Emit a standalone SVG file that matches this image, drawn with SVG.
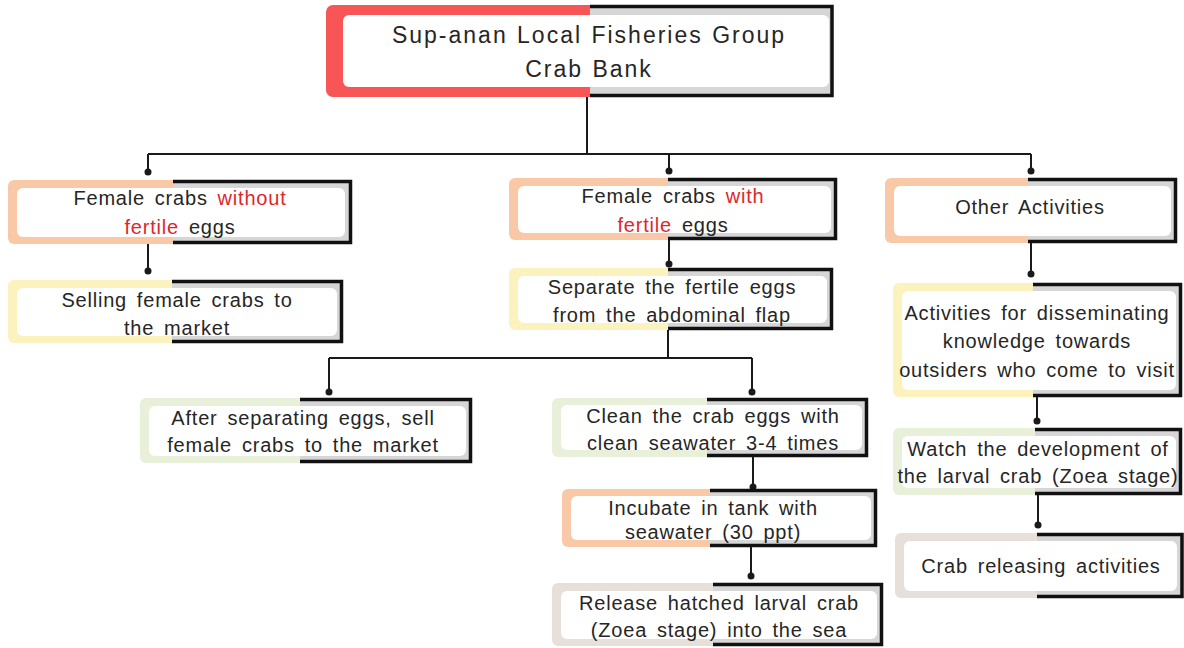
<svg xmlns="http://www.w3.org/2000/svg" width="1184" height="648" viewBox="0 0 1184 648">
<defs>
<style>
.bg{fill:#ffffff}
.gray{fill:#d6d6d6}
.blk{fill:none;stroke:#111;stroke-width:3.5;stroke-linejoin:miter}
.inner{fill:#ffffff}
.red{fill:#f75556}
.peach{fill:#f9c9a7}
.yellow{fill:#fcf2bd}
.green{fill:#e8f0d9}
.taupe{fill:#e7e0da}
.t{font-family:"Liberation Sans",Arial,sans-serif;font-size:20px;fill:#262626;text-anchor:middle;letter-spacing:0.8px;word-spacing:3.5px}
.title{font-size:23px;letter-spacing:2px;word-spacing:1px}
.hl{fill:#e0262c}
.ln{stroke:#1a1a1a;stroke-width:2;fill:none}
.dot{fill:#1a1a1a}
</style>
</defs>
<rect class="bg" x="0" y="0" width="1184" height="648"/>

<g id="connectors">
<path class="ln" d="M587,97 V154 M148,154 H1031 M148,154 V172 M669,154 V171 M1031,154 V171"/>
<circle class="dot" cx="148" cy="172" r="3.5"/>
<circle class="dot" cx="669" cy="171" r="3.5"/>
<circle class="dot" cx="1031" cy="171" r="3.5"/>
<path class="ln" d="M148,244 V271"/>
<circle class="dot" cx="148" cy="271" r="3.5"/>
<path class="ln" d="M669,240 V264"/>
<circle class="dot" cx="669" cy="264" r="3.5"/>
<path class="ln" d="M668,330 V358 M329,358 H752 M329,358 V392 M752,358 V392"/>
<circle class="dot" cx="329" cy="392" r="3.5"/>
<circle class="dot" cx="752" cy="392" r="3.5"/>
<path class="ln" d="M753,457 V487"/>
<circle class="dot" cx="753" cy="487" r="3.5"/>
<path class="ln" d="M751,547 V576"/>
<circle class="dot" cx="751" cy="576" r="3.5"/>
<path class="ln" d="M1031,243 V274"/>
<circle class="dot" cx="1031" cy="274" r="3.5"/>
<path class="ln" d="M1037,397 V421"/>
<circle class="dot" cx="1037" cy="421" r="3.5"/>
<path class="ln" d="M1038,495 V525"/>
<circle class="dot" cx="1038" cy="525" r="3.5"/>
</g>

<g id="root">
<path class="red" d="M590,5 H333 A7,7 0 0 0 326,12 V90 A7,7 0 0 0 333,97 H590 Z"/>
<rect class="gray" x="590" y="5" width="243" height="92"/>
<path class="blk" d="M590,6.5 H832 V95.5 H590"/>
<rect class="inner" x="343" y="15" width="486" height="72" rx="6"/>
<text class="t title" x="589" y="43">Sup-anan Local Fisheries Group</text>
<text class="t title" x="589" y="77">Crab Bank</text>
</g>

<g id="n1">
<path class="peach" d="M173,180 H14 A6,6 0 0 0 8,186 V238 A6,6 0 0 0 14,244 H173 Z"/>
<rect class="gray" x="173" y="180" width="179" height="64"/>
<path class="blk" d="M173,181.5 H350.5 V242.5 H173"/>
<rect class="inner" x="17" y="188" width="328" height="49" rx="6"/>
<text class="t" x="180" y="205">Female crabs <tspan class="hl">without</tspan></text>
<text class="t" x="180" y="234"><tspan class="hl">fertile</tspan> eggs</text>
</g>

<g id="n2">
<path class="yellow" d="M172,280 H14 A6,6 0 0 0 8,286 V337 A6,6 0 0 0 14,343 H172 Z"/>
<rect class="gray" x="172" y="280" width="171" height="63"/>
<path class="blk" d="M172,281.5 H341.5 V341.5 H172"/>
<rect class="inner" x="17" y="288" width="320" height="48" rx="6"/>
<text class="t" x="177" y="307">Selling female crabs to</text>
<text class="t" x="177" y="335">the market</text>
</g>

<g id="n3">
<path class="peach" d="M668,178 H515 A6,6 0 0 0 509,184 V234 A6,6 0 0 0 515,240 H668 Z"/>
<rect class="gray" x="668" y="178" width="169" height="62"/>
<path class="blk" d="M668,179.5 H835.5 V238.5 H668"/>
<rect class="inner" x="518" y="186" width="313" height="47" rx="6"/>
<text class="t" x="673" y="203">Female crabs <tspan class="hl">with</tspan></text>
<text class="t" x="673" y="232"><tspan class="hl">fertile</tspan> eggs</text>
</g>

<g id="n4">
<path class="yellow" d="M668,268 H515 A6,6 0 0 0 509,274 V324 A6,6 0 0 0 515,330 H668 Z"/>
<rect class="gray" x="668" y="268" width="165" height="62"/>
<path class="blk" d="M668,269.5 H831.5 V328.5 H668"/>
<rect class="inner" x="518" y="276" width="309" height="47" rx="6"/>
<text class="t" x="672" y="294">Separate the fertile eggs</text>
<text class="t" x="672" y="322">from the abdominal flap</text>
</g>

<g id="n5">
<path class="green" d="M300,398 H146 A6,6 0 0 0 140,404 V457 A6,6 0 0 0 146,463 H300 Z"/>
<rect class="gray" x="300" y="398" width="172" height="65"/>
<path class="blk" d="M300,399.5 H470.5 V461.5 H300"/>
<rect class="inner" x="149" y="406" width="317" height="50" rx="6"/>
<text class="t" x="303" y="425">After separating eggs, sell</text>
<text class="t" x="303" y="452">female crabs to the market</text>
</g>

<g id="n6">
<path class="green" d="M707,398 H558 A6,6 0 0 0 552,404 V451 A6,6 0 0 0 558,457 H707 Z"/>
<rect class="gray" x="707" y="398" width="161" height="59"/>
<path class="blk" d="M707,399.5 H866.5 V455.5 H707"/>
<rect class="inner" x="561" y="405" width="301" height="45" rx="6"/>
<text class="t" x="713" y="423">Clean the crab eggs with</text>
<text class="t" x="713" y="450">clean seawater 3-4 times</text>
</g>

<g id="n7">
<path class="peach" d="M710,489 H568 A6,6 0 0 0 562,495 V541 A6,6 0 0 0 568,547 H710 Z"/>
<rect class="gray" x="710" y="489" width="167" height="58"/>
<path class="blk" d="M710,490.5 H875.5 V545.5 H710"/>
<rect class="inner" x="571" y="496" width="300" height="44" rx="6"/>
<text class="t" x="713" y="515">Incubate in tank with</text>
<text class="t" x="713" y="539">seawater (30 ppt)</text>
</g>

<g id="n8">
<path class="taupe" d="M713,583 H558 A6,6 0 0 0 552,589 V640 A6,6 0 0 0 558,646 H713 Z"/>
<rect class="gray" x="713" y="583" width="170" height="63"/>
<path class="blk" d="M713,584.5 H881.5 V644.5 H713"/>
<rect class="inner" x="561" y="591" width="316" height="48" rx="6"/>
<text class="t" x="719" y="610">Release hatched larval crab</text>
<text class="t" x="719" y="637">(Zoea stage) into the sea</text>
</g>

<g id="n9">
<path class="peach" d="M1028,178 H891 A6,6 0 0 0 885,184 V237 A6,6 0 0 0 891,243 H1028 Z"/>
<rect class="gray" x="1028" y="178" width="149" height="65"/>
<path class="blk" d="M1028,179.5 H1175.5 V241.5 H1028"/>
<rect class="inner" x="894" y="186" width="277" height="50" rx="6"/>
<text class="t" x="1030" y="214">Other Activities</text>
</g>

<g id="n10">
<path class="yellow" d="M1033,283 H899 A6,6 0 0 0 893,289 V391 A6,6 0 0 0 899,397 H1033 Z"/>
<rect class="gray" x="1033" y="283" width="149" height="114"/>
<path class="blk" d="M1033,284.5 H1180.5 V395.5 H1033"/>
<rect class="inner" x="902" y="291" width="274" height="99" rx="6"/>
<text class="t" x="1037" y="320">Activities for disseminating</text>
<text class="t" x="1037" y="348">knowledge towards</text>
<text class="t" x="1037" y="377">outsiders who come to visit</text>
</g>

<g id="n11">
<path class="green" d="M1035,428 H899 A6,6 0 0 0 893,434 V489 A6,6 0 0 0 899,495 H1035 Z"/>
<rect class="gray" x="1035" y="428" width="147" height="67"/>
<path class="blk" d="M1035,429.5 H1180.5 V493.5 H1035"/>
<rect class="inner" x="902" y="436" width="274" height="52" rx="6"/>
<text class="t" x="1038" y="456">Watch the development of</text>
<text class="t" x="1038" y="483">the larval crab (Zoea stage)</text>
</g>

<g id="n12">
<path class="taupe" d="M1037,533 H901 A6,6 0 0 0 895,539 V592 A6,6 0 0 0 901,598 H1037 Z"/>
<rect class="gray" x="1037" y="533" width="146" height="65"/>
<path class="blk" d="M1037,534.5 H1182 V596.5 H1037"/>
<rect class="inner" x="904" y="541" width="273" height="50" rx="6"/>
<text class="t" x="1041" y="573">Crab releasing activities</text>
</g>
</svg>
